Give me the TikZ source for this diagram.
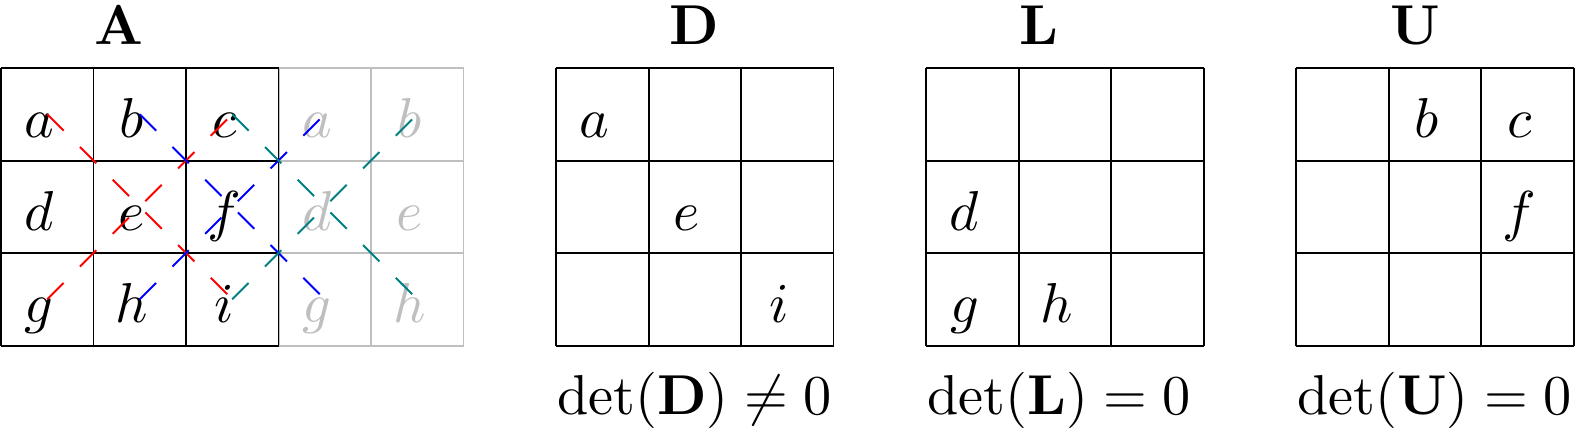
\documentclass[tikz,border=0pt]{standalone}
\usepackage{tikz}
\usepackage{amssymb}
\usepackage{amsmath}

\begin{document}
\begin{tikzpicture}[
  entry/.style={anchor=base, inner sep=0pt, xshift=-0.085cm, yshift=-0.255cm, scale=1.73},
  ghost/.style={entry, text=black!25},
  heading/.style={anchor=base, inner sep=0pt, scale=1.73},
  detlabel/.style={anchor=base west, inner sep=0pt, scale=1.73},
  boxlines/.style={semithick, black},
  ghostlines/.style={semithick, black!25},
  diag/.style={semithick, dash pattern=on 0.25cm off 0.25cm}]
\useasboundingbox (-0.011,-0.978) rectangle (17.113,3.736);
% grids
\draw[ghostlines] (3,0) grid (5,3);
\draw[boxlines] (0,0) grid (3,3);
\draw[boxlines] (6,0) grid (9,3);
\draw[boxlines] (10,0) grid (13,3);
\draw[boxlines] (14,0) grid (17,3);
% headings
\node[heading] (tA) at (1.28,3.25) {$\mathbf{A}$};
\node[heading] (tD) at (7.5,3.25) {$\mathbf{D}$};
\node[heading] (tL) at (11.22,3.25) {$\mathbf{L}$};
\node[heading] (tU) at (15.29,3.25) {$\mathbf{U}$};
% cell centres used by the diagonals
\coordinate (ca) at (0.5,2.5);
\coordinate (cb) at (1.5,2.5);
\coordinate (cc) at (2.5,2.5);
\coordinate (cg) at (0.5,0.5);
\coordinate (ch) at (1.5,0.5);
\coordinate (ci) at (2.5,0.5);
\coordinate (ca2) at (3.5,2.5);
\coordinate (cb2) at (4.5,2.5);
\coordinate (cg2) at (3.5,0.5);
\coordinate (ch2) at (4.5,0.5);
% entries of A
\node[entry] (a) at (ca) {$a$};
\node[entry] (b) at (cb) {$b$};
\node[entry] (c) at (cc) {$c$};
\node[entry] (d) at (0.5,1.5) {$d$};
\node[entry] (e) at (1.5,1.5) {$e$};
\node[entry] (f) at (2.5,1.5) {$f$};
\node[entry] (g) at (cg) {$g$};
\node[entry] (h) at (ch) {$h$};
\node[entry] (i) at (ci) {$i$};
% repeated columns
\node[ghost] (a2) at (ca2) {$a$};
\node[ghost] (b2) at (cb2) {$b$};
\node[ghost] (d2) at (3.5,1.5) {$d$};
\node[ghost] (e2) at (4.5,1.5) {$e$};
\node[ghost] (g2) at (cg2) {$g$};
\node[ghost] (h2) at (ch2) {$h$};
% D, L and U
\node[entry] (Da) at (6.5,2.5) {$a$};
\node[entry] (De) at (7.5,1.5) {$e$};
\node[entry] (Di) at (8.5,0.5) {$i$};
\node[entry] (Ld) at (10.5,1.5) {$d$};
\node[entry] (Lg) at (10.5,0.5) {$g$};
\node[entry] (Lh) at (11.5,0.5) {$h$};
\node[entry] (Ub) at (15.5,2.5) {$b$};
\node[entry] (Uc) at (16.5,2.5) {$c$};
\node[entry] (Uf) at (16.5,1.5) {$f$};
% determinants
\node[detlabel] (detD) at (6,-0.75) {$\det(\mathbf{D}) \neq 0$};
\node[detlabel] (detL) at (10,-0.75) {$\det(\mathbf{L}) = 0$};
\node[detlabel] (detU) at (14,-0.75) {$\det(\mathbf{U}) = 0$};
% diagonals
\draw[diag,red] (ca) -- (ci);
\draw[diag,red] (cg) -- (cc);
\draw[diag,blue] (cb) -- (cg2);
\draw[diag,blue] (ch) -- (ca2);
\draw[diag,teal] (cc) -- (ch2);
\draw[diag,teal] (ci) -- (cb2);
\end{tikzpicture}
\end{document}
